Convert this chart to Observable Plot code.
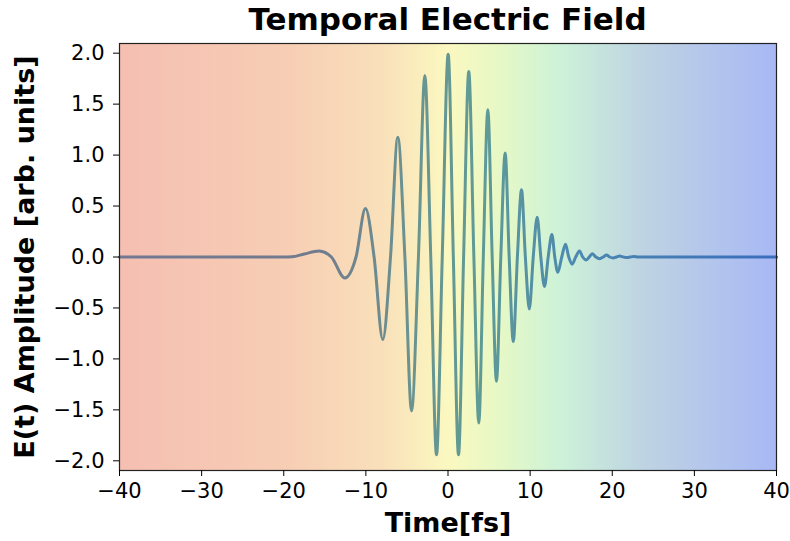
<!DOCTYPE html>
<html>
<head>
<meta charset="utf-8">
<script src="https://cdn.jsdelivr.net/npm/d3@7"></script>
<script src="https://cdn.jsdelivr.net/npm/@observablehq/plot@0.6"></script>
<style>
  html, body { margin: 0; padding: 0; background: #fff; }
  body { width: 790px; height: 541px; overflow: hidden; font-family: "DejaVu Sans", sans-serif; }
  #title { height: 36px; width: 790px; position: relative; }
  #title span { position: absolute; left: 447.5px; top: 1px; transform: translateX(-50%); white-space: nowrap;
    font-weight: bold; font-size: 31px; line-height: 36px; color: #000; }
  svg [aria-label="y-axis label"] text, svg [aria-label="x-axis label"] text { font-weight: bold; font-size: 27px; }
</style>
</head>
<body>
<div id="title"><span>Temporal Electric Field</span></div>
<div id="chart"></div>
<script>
// Key points of the field: time (fs) and amplitude (arb. units)
const timeFs = [
  -40, -25, -20, -19, -17.5, -15.7, -14.2, -12.57, -11.2, -10.05, -9.0, -7.94, -7.0, -6.11, -5.25,
  -4.44, -3.6, -2.82, -2.1, -1.40, -0.7, 0.02, 0.65, 1.28, 1.9, 2.53, 3.15, 3.75, 4.3, 4.85,
  5.38, 5.9, 6.43, 6.96, 7.45, 7.95, 8.45, 8.95, 9.42, 9.9, 10.38, 10.86, 11.3, 11.75, 12.2,
  12.65, 13.0, 13.37, 13.85, 14.31, 14.7, 15.12, 15.55, 16.01, 16.4, 16.83, 17.2, 17.56, 18.0,
  18.48, 18.9, 19.3, 19.7, 20.1, 20.5, 20.9, 21.35, 21.8, 22.2, 22.6, 23.2, 25, 40
];
const amplitude = [
  0, 0, 0, 0.002, 0.03, 0.059, 0, -0.206, 0, 0.475, 0, -0.81, 0, 1.176, 0,
  -1.51, 0, 1.78, 0, -1.94, 0, 1.99, 0, -1.94, 0, 1.82, 0, -1.63, 0, 1.445,
  0, -1.22, 0, 1.02, 0, -0.83, 0, 0.66, 0, -0.51, 0, 0.39, 0, -0.29, 0,
  0.22, 0, -0.15, 0, 0.125, 0, -0.07, 0, 0.06, 0, -0.03, 0, 0.033, 0,
  -0.016, 0, 0.02, 0, -0.01, 0, 0.01, 0, -0.006, 0, 0.004, 0, 0, 0
];
const xTicks = [-40, -30, -20, -10, 0, 10, 20, 30, 40];
const yTicks = [-2.0, -1.5, -1.0, -0.5, 0.0, 0.5, 1.0, 1.5, 2.0];
const xLabel = "Time[fs]";
const yLabel = "E(t) Amplitude [arb. units]";

const data = timeFs.map((t, i) => ({t, e: amplitude[i]}));

const chart = Plot.plot({
  width: 790,
  height: 505,
  marginTop: 7,
  marginBottom: 71,
  marginLeft: 119,
  marginRight: 14,
  style: {fontFamily: "DejaVu Sans", fontSize: "21px", color: "#000", background: "transparent"},
  x: {domain: [-40, 40]},
  y: {domain: [-2.095, 2.095]},
  marks: [
    Plot.frame({fill: "url(#bgGrad)", stroke: "none"}),
    Plot.line(data, {x: "t", y: "e", curve: "monotone-x", stroke: "url(#lineGrad)", strokeWidth: 3}),
    Plot.frame({stroke: "#222", strokeWidth: 1.2}),
    Plot.axisX({ticks: xTicks, tickSize: 6, tickPadding: 7, tickFormat: d3.format("d"),
      label: xLabel, labelAnchor: "center", labelArrow: "none", labelOffset: 61}),
    Plot.axisY({ticks: yTicks, tickSize: 6, tickPadding: 9, tickFormat: d3.format(".1f"),
      label: yLabel, labelAnchor: "center", labelArrow: "none", labelOffset: 105})
  ]
});

const ns = "http://www.w3.org/2000/svg";
const defs = document.createElementNS(ns, "defs");
function grad(id, stops) {
  const g = document.createElementNS(ns, "linearGradient");
  g.setAttribute("id", id);
  g.setAttribute("x1", "0"); g.setAttribute("x2", "1");
  g.setAttribute("y1", "0"); g.setAttribute("y2", "0");
  for (const [o, c] of stops) {
    const s = document.createElementNS(ns, "stop");
    s.setAttribute("offset", o);
    s.setAttribute("stop-color", c);
    g.appendChild(s);
  }
  defs.appendChild(g);
}
grad("bgGrad", [
  [0, "#f5bfb2"], [0.25, "#f7cdb4"], [0.4, "#f9e0ba"], [0.5, "#fbf8c0"],
  [0.58, "#e6f8c6"], [0.67, "#cdf2d8"], [0.8, "#bed3e3"], [1, "#a8b8f5"]
]);
grad("lineGrad", [
  [0, "#727891"], [0.3, "#717b8e"], [0.45, "#6a9490"], [0.55, "#5f9b95"],
  [0.68, "#4e8aae"], [1, "#3a6dbd"]
]);
chart.insertBefore(defs, chart.firstChild);
document.getElementById("chart").appendChild(chart);
</script>
</body>
</html>
